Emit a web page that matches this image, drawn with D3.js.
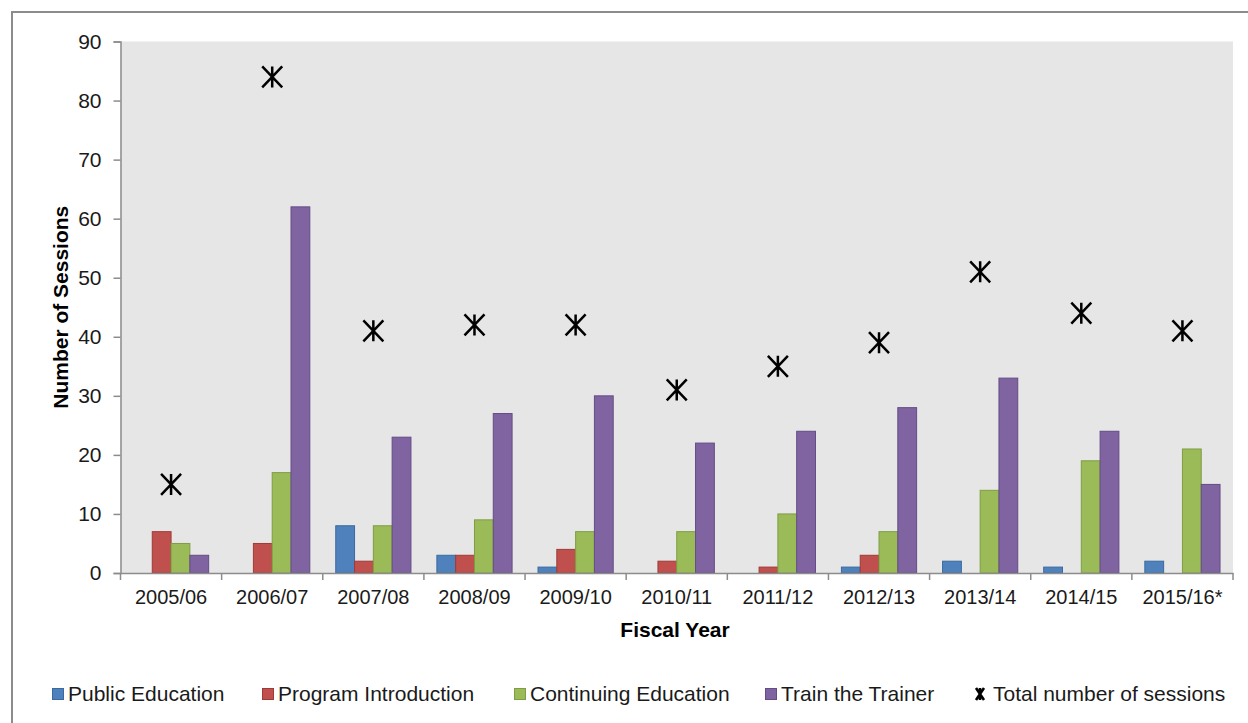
<!DOCTYPE html>
<html><head><meta charset="utf-8">
<script src="https://cdn.jsdelivr.net/npm/d3@7"></script>
<style>body{margin:0;background:#fff}svg{display:block}text{font-family:Arial,"Liberation Sans",sans-serif}</style>
</head><body>
<svg id="c" width="1248" height="723"></svg>
<script>
const categories = ["2005/06","2006/07","2007/08","2008/09","2009/10","2010/11","2011/12","2012/13","2013/14","2014/15","2015/16*"];
const seriesNames = ["Public Education","Program Introduction","Continuing Education","Train the Trainer"];
const publicEducation = [0,0,8,3,1,0,0,1,2,1,2];
const programIntroduction = [7,5,2,3,4,2,1,3,0,0,0];
const continuingEducation = [5,17,8,9,7,7,10,7,14,19,21];
const trainTheTrainer = [3,62,23,27,30,22,24,28,33,24,15];
const totalSessions = [15,84,41,42,42,31,35,39,51,44,41];
const yTicks = [0,10,20,30,40,50,60,70,80,90];
const colors = ["#4f81bd","#c0504d","#9bbb59","#8064a2"];
const strokes = ["#3a6a9f","#9e3b38","#7f9d43","#644c85"];

const series = [publicEducation, programIntroduction, continuingEducation, trainTheTrainer];
const svg = d3.select("#c");
const L = 120.5, R = 1233, T = 41.5, B = 573;
const FONT = "Arial, Liberation Sans, sans-serif";

// outer frame
svg.append("path").attr("d","M12,723 L12,12 L1248,12").attr("fill","none").attr("stroke","#8c8c8c").attr("stroke-width",2);

const x = d3.scaleBand().domain(categories).range([L,R]);
const x1 = d3.scaleBand().domain(d3.range(4)).range([0,x.bandwidth()]).paddingOuter(0.69).paddingInner(0);
const y = d3.scaleLinear().domain([0,90]).range([B,T]);

svg.append("rect").attr("x",L).attr("y",T).attr("width",R-L).attr("height",B-T).attr("fill","#e6e6e6");

// bars
series.forEach((vals,si)=>{
  svg.append("g").selectAll("rect").data(vals).join("rect")
    .attr("x",(d,i)=>x(categories[i])+x1(si))
    .attr("y",d=>y(d))
    .attr("width",x1.bandwidth())
    .attr("height",d=>B-y(d))
    .attr("fill",colors[si])
    .attr("stroke",d=>d>0?strokes[si]:"none")
    .attr("stroke-width",1);
});

// y axis
const ya = svg.append("g").attr("transform",`translate(${L},0)`)
  .call(d3.axisLeft(y).tickValues(yTicks).tickSize(7).tickPadding(12));
ya.select(".domain").attr("stroke","#8c8c8c").attr("stroke-width",1.5);
ya.selectAll(".tick line").attr("stroke","#8c8c8c").attr("stroke-width",1.5);
ya.selectAll(".tick text").attr("font-size",21).attr("fill","#1a1a1a").attr("font-family",FONT);

// x axis
const xa = svg.append("g").attr("transform",`translate(0,${B})`)
  .call(d3.axisBottom(x).tickSize(0).tickPadding(17));
xa.select(".domain").attr("stroke","#8c8c8c").attr("stroke-width",1.5);
xa.selectAll(".tick text").attr("font-size",20).attr("fill","#1a1a1a").attr("font-family",FONT);
const bounds = categories.map(c=>x(c)).concat([R]);
svg.append("g").selectAll("line").data(bounds).join("line")
  .attr("x1",d=>d).attr("x2",d=>d).attr("y1",B).attr("y2",B+7)
  .attr("stroke","#8c8c8c").attr("stroke-width",1.5);

// total markers (asterisk)
function star(g,cx,cy,w,h,sw){
  g.append("path").attr("d",`M${cx-w},${cy-h} L${cx+w},${cy+h} M${cx+w},${cy-h} L${cx-w},${cy+h} M${cx},${cy-h} L${cx},${cy+h}`)
   .attr("stroke","#000").attr("stroke-width",sw).attr("fill","none");
}
const mg = svg.append("g");
totalSessions.forEach((v,i)=>star(mg, x(categories[i])+x.bandwidth()/2, y(v), 10, 10.5, 2.5));

// axis titles
svg.append("text").attr("transform",`translate(68,${(T+B)/2}) rotate(-90)`).attr("text-anchor","middle")
  .attr("font-size",21).attr("font-weight","bold").attr("fill","#000").text("Number of Sessions");
svg.append("text").attr("x",675).attr("y",637).attr("text-anchor","middle")
  .attr("font-size",21).attr("font-weight","bold").attr("fill","#000").text("Fiscal Year");

// legend
const legX = [52,262,514,765,975];
const lg = svg.append("g");
seriesNames.forEach((n,i)=>{
  lg.append("rect").attr("x",legX[i]+0.5).attr("y",688.5).attr("width",11).attr("height",11)
    .attr("fill",colors[i]).attr("stroke",strokes[i]);
  lg.append("text").attr("x",legX[i]+16).attr("y",701).attr("font-size",21).attr("fill","#1a1a1a").text(n);
});
star(lg, legX[4]+5, 694, 4, 6, 2.6);
lg.append("text").attr("x",legX[4]+18).attr("y",701).attr("font-size",21).attr("fill","#1a1a1a").text("Total number of sessions");
</script>
</body></html>
